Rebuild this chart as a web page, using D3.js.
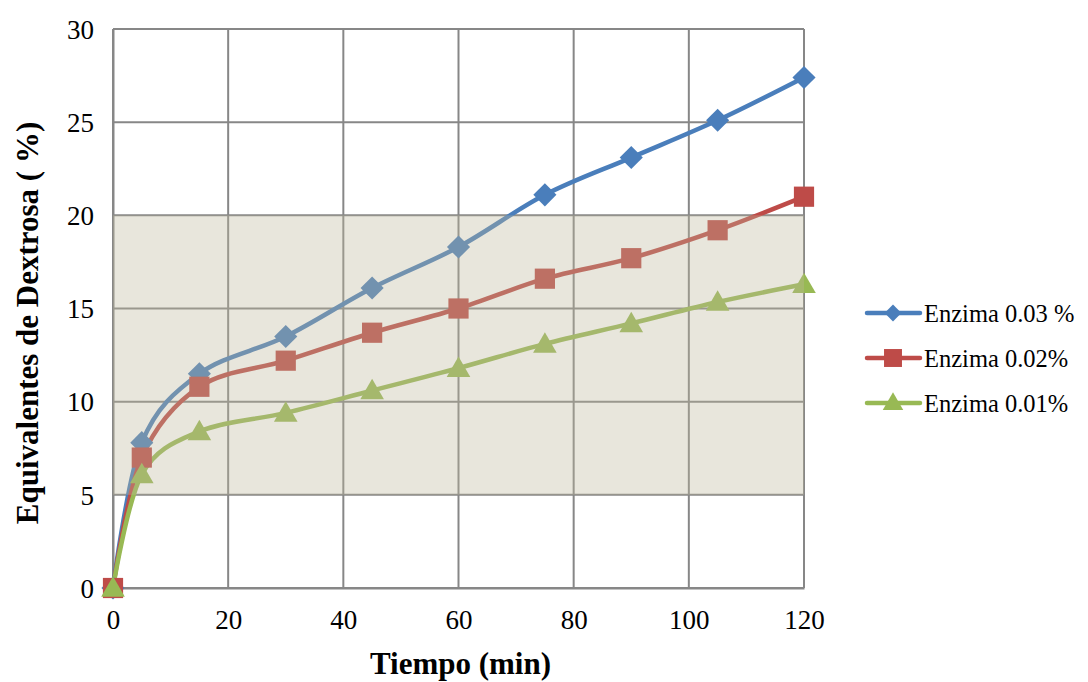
<!DOCTYPE html>
<html>
<head>
<meta charset="utf-8">
<script src="https://cdn.jsdelivr.net/npm/d3@7"></script>
<style>
  html, body { margin: 0; padding: 0; background: #fff; }
  svg { display: block; }
  svg text { font-family: "Liberation Serif", "Times New Roman", Times, serif; }
</style>
</head>
<body>
<svg id="chart" width="1088" height="682"></svg>
<script>
// Sampling times (min)
const tiempo = [0, 5, 15, 30, 45, 60, 75, 90, 105, 120];
// Dextrose equivalents (%) per enzyme dose
const enzima003 = [0, 7.8, 11.5, 13.5, 16.1, 18.3, 21.1, 23.1, 25.1, 27.4];
const enzima002 = [0, 7.0, 10.8, 12.2, 13.7, 15.0, 16.6, 17.7, 19.2, 21.0];
const enzima001 = [0, 6.1, 8.4, 9.4, 10.6, 11.8, 13.1, 14.2, 15.35, 16.3];
const seriesNames = ["Enzima 0.03 %", "Enzima 0.02%", "Enzima 0.01%"];
const xTicks = [0, 20, 40, 60, 80, 100, 120];
const yTicks = [0, 5, 10, 15, 20, 25, 30];
// Highlighted range on the y axis
const bandRange = [5, 20];

const series = [
  { name: seriesNames[0], values: enzima003, color: "#4A7EBB", symbol: d3.symbolDiamond2, size: 340, legendSize: 180 },
  { name: seriesNames[1], values: enzima002, color: "#BE4B48", symbol: d3.symbolSquare2, size: 520, legendSize: 410 },
  { name: seriesNames[2], values: enzima001, color: "#98B954", symbol: d3.symbolTriangle2, size: 400, legendSize: 300 }
];

const svg = d3.select("#chart");
const plot = { left: 113, right: 804, top: 29, bottom: 588 };
const x = d3.scaleLinear().domain([0, 120]).range([plot.left, plot.right]);
const y = d3.scaleLinear().domain([0, 30]).range([plot.bottom, plot.top]);

// Gridlines
const grid = svg.append("g").attr("stroke", "#878787").attr("stroke-width", 2);
xTicks.forEach(t => grid.append("line").attr("x1", x(t)).attr("x2", x(t)).attr("y1", plot.top).attr("y2", plot.bottom));
yTicks.forEach(t => grid.append("line").attr("x1", plot.left).attr("x2", plot.right).attr("y1", y(t)).attr("y2", y(t)));

// Axes
const xAxis = d3.axisBottom(x).tickValues(xTicks).tickSize(0).tickPadding(22);
const yAxis = d3.axisLeft(y).tickValues(yTicks).tickSize(0).tickPadding(19);
const gx = svg.append("g").attr("transform", `translate(0,${plot.bottom})`).call(xAxis);
const gy = svg.append("g").attr("transform", `translate(${plot.left},0)`).call(yAxis);
[gx, gy].forEach(g => {
  g.attr("font-family", null);
  g.select(".domain").attr("stroke", "#878787").attr("stroke-width", 2);
  g.selectAll("text").attr("font-size", 27).attr("fill", "#000");
});
gy.selectAll("text").attr("dy", "0.34em");

// Series lines and markers
const line = d3.line()
  .x((d, i) => x(tiempo[i]))
  .y(d => y(d))
  .curve(d3.curveCatmullRom.alpha(0));

series.forEach(s => {
  svg.append("path")
    .attr("d", line(s.values))
    .attr("fill", "none")
    .attr("stroke", s.color)
    .attr("stroke-width", 4.5)
    .attr("stroke-linejoin", "round")
    .attr("stroke-linecap", "round");
});
series.forEach(s => {
  const tri = s.symbol === d3.symbolTriangle2;
  const sym = d3.symbol().type(s.symbol).size(s.size);
  svg.append("g").selectAll("path")
    .data(s.values)
    .join("path")
    .attr("d", sym)
    .attr("transform", (d, i) => `translate(${x(tiempo[i])},${y(d) + (tri ? 2 : 0)})`)
    .attr("fill", s.color);
});

// Translucent band laid over the plot
svg.append("rect")
  .attr("x", plot.left)
  .attr("y", y(bandRange[1]))
  .attr("width", plot.right - plot.left)
  .attr("height", y(bandRange[0]) - y(bandRange[1]))
  .attr("fill", "rgb(189,184,155)")
  .attr("fill-opacity", 0.35);

// Axis titles
svg.append("text")
  .attr("x", (plot.left + plot.right) / 2 + 2).attr("y", 674)
  .attr("text-anchor", "middle")
  .attr("font-weight", "bold").attr("font-size", 31)
  .text("Tiempo (min)");
svg.append("text")
  .attr("transform", `translate(38,323) rotate(-90)`)
  .attr("text-anchor", "middle")
  .attr("font-weight", "bold").attr("font-size", 31)
  .text("Equivalentes de Dextrosa ( %)");

// Legend
const legend = svg.append("g");
series.forEach((s, i) => {
  const ly = 313 + i * 45;
  const tri = s.symbol === d3.symbolTriangle2;
  legend.append("line")
    .attr("x1", 867).attr("x2", 920).attr("y1", ly).attr("y2", ly)
    .attr("stroke", s.color).attr("stroke-width", 4.5).attr("stroke-linecap", "round");
  legend.append("path")
    .attr("d", d3.symbol().type(s.symbol).size(s.legendSize)())
    .attr("transform", `translate(893,${ly + (tri ? 1 : 0)})`)
    .attr("fill", s.color);
  legend.append("text")
    .attr("x", 924).attr("y", ly).attr("dy", "0.35em")
    .attr("font-size", 24.5).attr("fill", "#000")
    .text(s.name);
});
</script>
</body>
</html>
